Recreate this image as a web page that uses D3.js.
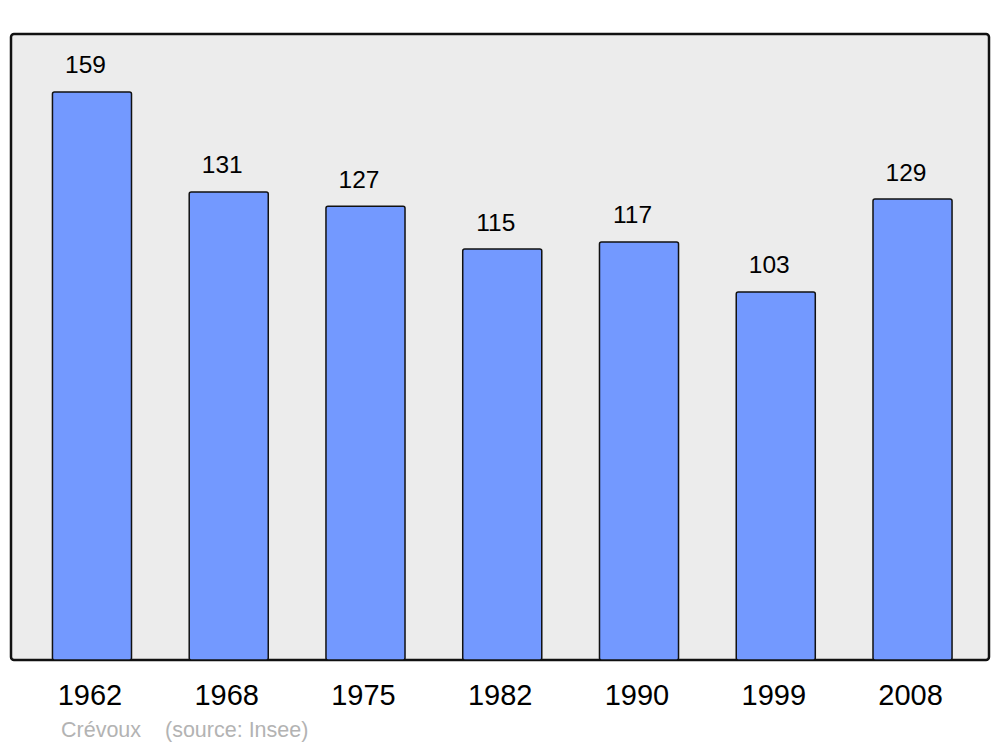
<!DOCTYPE html>
<html>
<head>
<meta charset="utf-8">
<script src="https://cdn.jsdelivr.net/npm/d3@7"></script>
<style>
	body { margin: 0; background: #fff; }
	text { font-family: 'Liberation Sans', Arial, sans-serif; }
</style>
</head>
<body>
<svg id="chart-svg" width="1000" height="747"></svg>
<script>
const YEARS = ['1962', '1968', '1975', '1982', '1990', '1999', '2008'];
const POPULATION = [159, 131, 127, 115, 117, 103, 129];
const PLACE = 'Crévoux';
const SOURCE = '(source: Insee)';

const PANEL = { left: 11, right: 989, top: 34, bottom: 660 };

let svg = d3.select('#chart-svg');

// Background panel
svg
	.append('rect')
	.attr('x', PANEL.left)
	.attr('y', PANEL.top)
	.attr('width', PANEL.right - PANEL.left)
	.attr('height', PANEL.bottom - PANEL.top)
	.attr('rx', 3)
	.attr('fill', '#ececec')
	.attr('stroke', '#111')
	.attr('stroke-width', 2.5);

const xScale = d3.scaleBand().domain(YEARS).range([ 23.6, 980.9 ]).paddingInner(0.422).paddingOuter(0.211);
const yScale = d3.scaleLinear().domain([ 0, 175.2 ]).range([ PANEL.bottom, PANEL.top ]);

const data = YEARS.map((y, i) => ({ year: y, value: POPULATION[i] }));

// Bars
svg
	.selectAll('rect.bar')
	.data(data)
	.enter()
	.append('rect')
	.attr('class', 'bar')
	.attr('x', (d) => xScale(d.year))
	.attr('y', (d) => yScale(d.value))
	.attr('width', xScale.bandwidth())
	.attr('height', (d) => yScale(0) - yScale(d.value))
	.attr('rx', 2)
	.attr('fill', '#7399ff')
	.attr('stroke', '#111')
	.attr('stroke-width', 1.5);

// Value labels (sit a little left of the bar centre in the original)
svg
	.selectAll('text.value')
	.data(data)
	.enter()
	.append('text')
	.attr('class', 'value')
	.attr('x', (d) => xScale(d.year) + xScale.bandwidth() / 2 - 6.5)
	.attr('y', (d) => yScale(d.value) - 18.5)
	.attr('text-anchor', 'middle')
	.attr('font-size', 24.5)
	.attr('fill', '#000')
	.text((d) => d.value);

// Year labels
svg
	.selectAll('text.year')
	.data(data)
	.enter()
	.append('text')
	.attr('class', 'year')
	.attr('x', (d) => xScale(d.year) + xScale.bandwidth() / 2 - 2)
	.attr('y', 705)
	.attr('text-anchor', 'middle')
	.attr('font-size', 29)
	.attr('fill', '#000')
	.text((d) => d.year);

// Footer
svg.append('text').attr('x', 61).attr('y', 737).attr('font-size', 21.5).attr('fill', '#b3b3b3').text(PLACE);
svg.append('text').attr('x', 165).attr('y', 737).attr('font-size', 21.5).attr('fill', '#b3b3b3').text(SOURCE);
</script>
</body>
</html>
